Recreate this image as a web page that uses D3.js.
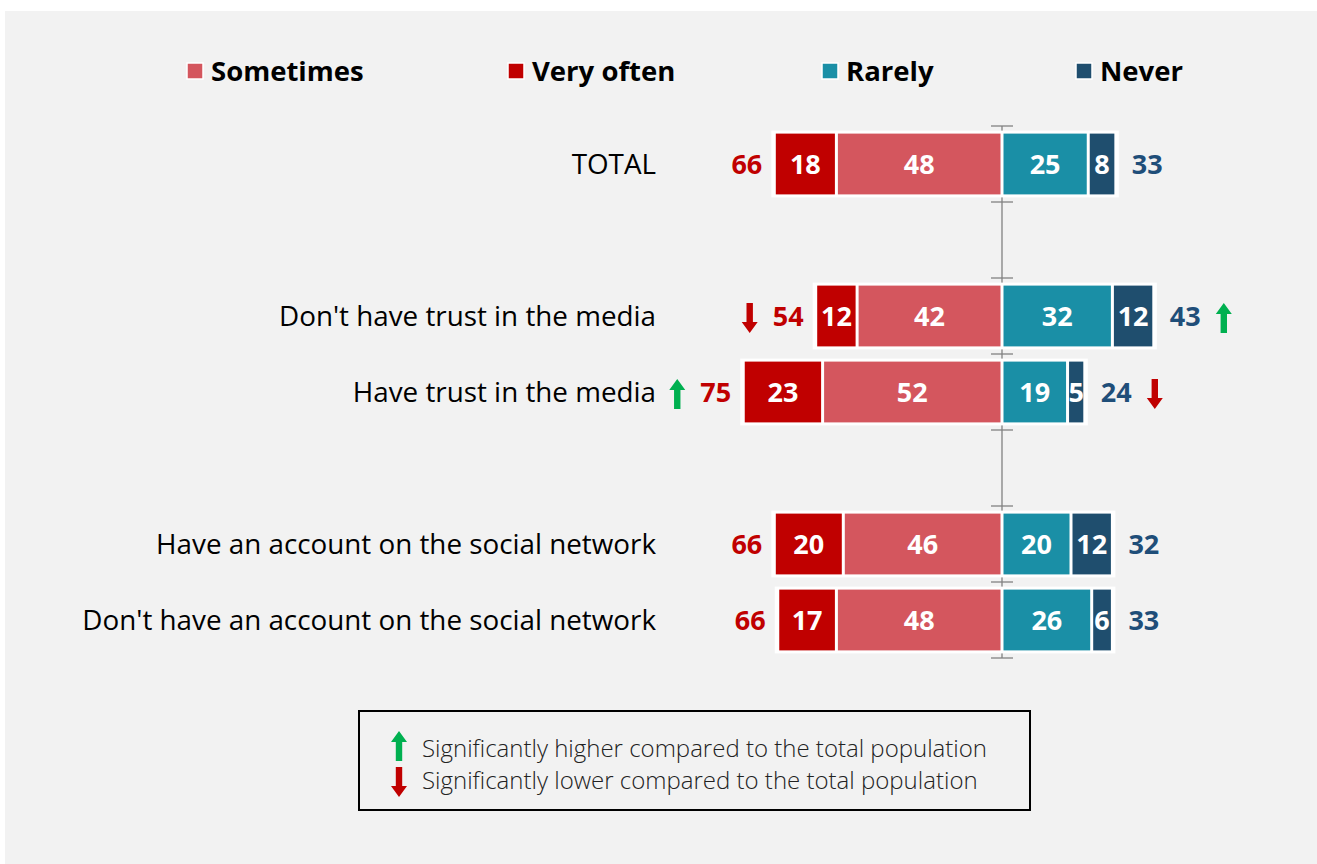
<!DOCTYPE html>
<html>
<head>
<meta charset="utf-8">
<script src="https://cdn.jsdelivr.net/npm/d3@7"></script>
<style>
  body { margin: 0; background: #fff; }
  svg { display: block; font-family: "Open Sans", "Noto Sans", sans-serif; }
</style>
</head>
<body>
<svg id="chart" width="1317" height="864"></svg>
<script>
// data (blank rows are spacer rows between groups)
var categories = ["TOTAL", "", "Don't have trust in the media", "Have trust in the media", "", "Have an account on the social network", "Don't have an account on the social network"];
var veryOften = [18, null, 12, 23, null, 20, 17];
var sometimes = [48, null, 42, 52, null, 46, 48];
var rarely    = [25, null, 32, 19, null, 20, 26];
var never     = [8, null, 12, 5, null, 12, 6];
var totalLeft  = [66, null, 54, 75, null, 66, 66];
var totalRight = [33, null, 43, 24, null, 32, 33];
// significance vs total: 1 higher, -1 lower, 0 none
var sigLeft  = [0, 0, -1, 1, 0, 0, 0];
var sigRight = [0, 0, 1, -1, 0, 0, 0];
var legendLabels = ["Sometimes", "Very often", "Rarely", "Never"];
var noteLabels = ["Significantly higher compared to the total population", "Significantly lower compared to the total population"];

var colors = {
  "Very often": "#C00000",
  "Sometimes": "#D4565E",
  "Rarely": "#1A8FA6",
  "Never": "#1F4E6E"
};
var green = "#00B050", red = "#C00000", navy = "#1F4E79";

var svg = d3.select("#chart");

svg.append("rect")
  .attr("x", 5).attr("y", 11)
  .attr("width", 1312).attr("height", 853)
  .attr("fill", "#F2F2F2");

var x = d3.scaleLinear().domain([-75, 75]).range([1002 - 75 * 3.45, 1002 + 75 * 3.45]);
var y = d3.scaleBand().domain(d3.range(categories.length)).range([126, 658]).paddingInner(0.2).paddingOuter(0.1);

// axis line through zero with tick marks at row boundaries
var ax = svg.append("g");
ax.append("line")
  .attr("x1", x(0)).attr("x2", x(0))
  .attr("y1", 126).attr("y2", 658)
  .attr("stroke", "#808080").attr("stroke-width", 1.3);
var bounds = d3.range(categories.length + 1).map(function(i) { return 126 + i * (532 / categories.length); });
ax.selectAll("line.tick").data(bounds).enter().append("line")
  .attr("class", "tick")
  .attr("x1", x(0) - 11).attr("x2", x(0) + 11)
  .attr("y1", function(d) { return d; }).attr("y2", function(d) { return d; })
  .attr("stroke", "#808080").attr("stroke-width", 1.3);

// build segments
var segs = [];
categories.forEach(function(c, i) {
  if (veryOften[i] == null) return;
  var s = sometimes[i], v = veryOften[i], r = rarely[i], n = never[i];
  segs.push({ row: i, key: "Sometimes", x0: -s, x1: 0, v: s });
  segs.push({ row: i, key: "Very often", x0: -s - v, x1: -s, v: v });
  segs.push({ row: i, key: "Rarely", x0: 0, x1: r, v: r });
  segs.push({ row: i, key: "Never", x0: r, x1: r + n, v: n });
});

var rows = categories.map(function(c, i) { return i; }).filter(function(i) { return veryOften[i] != null; });

// white backing box behind each bar
svg.append("g").selectAll("rect").data(rows).enter().append("rect")
  .attr("x", function(i) { return x(-sometimes[i] - veryOften[i]) - 3; })
  .attr("y", function(i) { return y(i) - 3; })
  .attr("width", function(i) { return x(rarely[i] + never[i]) - x(-sometimes[i] - veryOften[i]) + 6; })
  .attr("height", y.bandwidth() + 6)
  .attr("fill", "#fff");

svg.append("g").selectAll("rect").data(segs).enter().append("rect")
  .attr("x", function(d) { return x(d.x0) + 1.5; })
  .attr("y", function(d) { return y(d.row); })
  .attr("width", function(d) { return Math.max(0, x(d.x1) - x(d.x0) - 3); })
  .attr("height", y.bandwidth())
  .attr("fill", function(d) { return colors[d.key]; });

svg.append("g").selectAll("text").data(segs).enter().append("text")
  .attr("x", function(d) { return (x(d.x0) + x(d.x1)) / 2; })
  .attr("y", function(d) { return y(d.row) + y.bandwidth() / 2; })
  .attr("dy", "0.36em")
  .attr("text-anchor", "middle")
  .attr("fill", "#fff")
  .attr("font-weight", 700)
  .attr("font-size", 27)
  .text(function(d) { return d.v; });

// category labels
svg.append("g").selectAll("text").data(rows).enter().append("text")
  .attr("x", 656)
  .attr("y", function(i) { return y(i) + y.bandwidth() / 2; })
  .attr("dy", "0.36em")
  .attr("text-anchor", "end")
  .attr("fill", "#000")
  .attr("font-size", 27.8)
  .text(function(i) { return categories[i]; });

// totals
svg.append("g").selectAll("text").data(rows).enter().append("text")
  .attr("x", function(i) { return x(-sometimes[i] - veryOften[i]) - 12; })
  .attr("y", function(i) { return y(i) + y.bandwidth() / 2; })
  .attr("dy", "0.36em")
  .attr("text-anchor", "end")
  .attr("fill", red)
  .attr("font-weight", 700)
  .attr("font-size", 27)
  .text(function(i) { return totalLeft[i]; });

svg.append("g").selectAll("text").data(rows).enter().append("text")
  .attr("x", function(i) { return x(rarely[i] + never[i]) + 16; })
  .attr("y", function(i) { return y(i) + y.bandwidth() / 2; })
  .attr("dy", "0.36em")
  .attr("text-anchor", "start")
  .attr("fill", navy)
  .attr("font-weight", 700)
  .attr("font-size", 27)
  .text(function(i) { return totalRight[i]; });

// arrow shape centered at (0,0), pointing up, height 30
function arrowPath(up) {
  var p = [[-3.2, 15], [-3.2, -4], [-8, -4], [0, -15], [8, -4], [3.2, -4], [3.2, 15]];
  if (!up) p = p.map(function(q) { return [q[0], -q[1]]; });
  return "M" + p.map(function(q) { return q.join(","); }).join("L") + "Z";
}
function drawArrow(g, cx, cy, dir) {
  g.append("path")
    .attr("d", arrowPath(dir > 0))
    .attr("transform", "translate(" + cx + "," + cy + ")")
    .attr("fill", dir > 0 ? green : red);
}
var arrows = svg.append("g");
rows.forEach(function(i) {
  var cy = y(i) + y.bandwidth() / 2;
  if (sigLeft[i]) {
    var lx = x(-sometimes[i] - veryOften[i]) - 12 - 34 - 20;
    drawArrow(arrows, lx, cy + 2, sigLeft[i]);
  }
  if (sigRight[i]) {
    var rx = x(rarely[i] + never[i]) + 16 + 34 + 20;
    drawArrow(arrows, rx, cy + 2, sigRight[i]);
  }
});

// legend
var legendX = [187, 508, 822, 1076];
var lg = svg.append("g").selectAll("g").data(legendLabels).enter().append("g")
  .attr("transform", function(d, i) { return "translate(" + legendX[i] + ",71)"; });
lg.append("rect")
  .attr("x", 0).attr("y", -8).attr("width", 16).attr("height", 16)
  .attr("fill", function(d) { return colors[d]; })
  .attr("stroke", "#fff").attr("stroke-width", 1.5);
lg.append("text")
  .attr("x", 24).attr("dy", "0.36em")
  .attr("font-weight", 700)
  .attr("font-size", 27.5)
  .attr("fill", "#000")
  .text(function(d) { return d; });

// significance note box
var note = svg.append("g");
note.append("rect")
  .attr("x", 359).attr("y", 711).attr("width", 671).attr("height", 99)
  .attr("fill", "none").attr("stroke", "#000").attr("stroke-width", 2);
noteLabels.forEach(function(t, i) {
  var cy = 748 + i * 32;
  drawArrow(note, 399, cy + (i ? 2 : -2), i ? -1 : 1);
  note.append("text")
    .attr("x", 422).attr("y", cy).attr("dy", "0.36em")
    .attr("font-size", 24)
    .attr("font-weight", 300)
    .attr("fill", "#222")
    .text(t);
});
</script>
</body>
</html>
